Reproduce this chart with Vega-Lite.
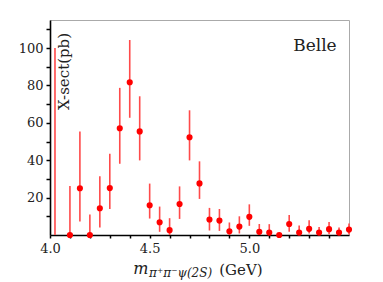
{
  "$schema": "https://vega.github.io/schema/vega-lite/v6.json",
  "width": 299,
  "height": 215,
  "autosize": {"type": "none"},
  "padding": {"left": 50, "top": 20, "right": 34, "bottom": 47},
  "background": "white",
  "config": {
    "view": {"stroke": "#aaaaaa", "strokeWidth": 1},
    "axis": {
      "domainColor": "black",
      "domainWidth": 1.6,
      "tickColor": "black",
      "tickWidth": 1.5,
      "grid": false,
      "labelOverlap": false,
      "labelFont": "DejaVu Serif",
      "labelFontSize": 13,
      "labelColor": "#222222",
      "titleFont": "DejaVu Serif",
      "titleFontWeight": "normal",
      "titleColor": "#222222"
    }
  },
  "data": {
    "values": [
      {"x": 4.025, "v": null, "lo": 0, "hi": 100},
      {"x": 4.10, "v": 0, "lo": 0, "hi": 26.2},
      {"x": 4.15, "v": 25.0, "lo": 7.2, "hi": 55.3},
      {"x": 4.20, "v": 0, "lo": 0, "hi": 10.9},
      {"x": 4.25, "v": 14.3, "lo": 4.0, "hi": 31.4},
      {"x": 4.30, "v": 25.1, "lo": 13.9, "hi": 43.5},
      {"x": 4.35, "v": 57.1, "lo": 38.1, "hi": 78.7},
      {"x": 4.40, "v": 81.7, "lo": 62.7, "hi": 104.3},
      {"x": 4.45, "v": 55.4, "lo": 39.9, "hi": 74.2},
      {"x": 4.50, "v": 15.9, "lo": 8.8, "hi": 27.5},
      {"x": 4.55, "v": 6.8, "lo": 1.7, "hi": 15.2},
      {"x": 4.60, "v": 2.6, "lo": 0, "hi": 9.0},
      {"x": 4.65, "v": 16.6, "lo": 8.6, "hi": 26.0},
      {"x": 4.70, "v": 52.3, "lo": 39.9, "hi": 66.7},
      {"x": 4.75, "v": 27.6, "lo": 19.3, "hi": 39.4},
      {"x": 4.80, "v": 8.3, "lo": 2.4, "hi": 14.5},
      {"x": 4.85, "v": 7.7, "lo": 2.2, "hi": 13.9},
      {"x": 4.90, "v": 2.0, "lo": 0, "hi": 6.7},
      {"x": 4.95, "v": 4.5, "lo": 0.8, "hi": 10.0},
      {"x": 5.00, "v": 9.7, "lo": 4.9, "hi": 16.4},
      {"x": 5.05, "v": 1.7, "lo": 0, "hi": 5.9},
      {"x": 5.10, "v": 1.3, "lo": 0, "hi": 5.8},
      {"x": 5.15, "v": 0, "lo": 0, "hi": 1.1},
      {"x": 5.20, "v": 5.9, "lo": 1.7, "hi": 10.7},
      {"x": 5.25, "v": 1.3, "lo": 0, "hi": 5.1},
      {"x": 5.30, "v": 3.3, "lo": 0.8, "hi": 7.9},
      {"x": 5.35, "v": 1.3, "lo": 0, "hi": 4.3},
      {"x": 5.40, "v": 3.1, "lo": 0.4, "hi": 7.0},
      {"x": 5.45, "v": 1.3, "lo": 0, "hi": 4.0},
      {"x": 5.50, "v": 2.9, "lo": 0.3, "hi": 6.1}
    ]
  },
  "encoding": {
    "x": {
      "field": "x",
      "type": "quantitative",
      "scale": {"domain": [4.0, 5.5], "nice": false, "zero": false},
      "axis": {
        "title": null,
        "values": [4.0, 4.1, 4.2, 4.3, 4.4, 4.5, 4.6, 4.7, 4.8, 4.9, 5.0, 5.1, 5.2, 5.3, 5.4],
        "labelExpr": "abs(datum.value*2 - round(datum.value*2)) < 1e-6 ? format(datum.value, '.1f') : ''",
        "tickSize": 3,
        "labelPadding": 4,
        "labelFlush": false
      }
    },
    "y": {
      "field": "v",
      "type": "quantitative",
      "scale": {"domain": [0, 115], "nice": false},
      "axis": {
        "title": "X-sect(pb)",
        "titleFontSize": 15,
        "titleAngle": -90,
        "titleAlign": "center",
        "titleBaseline": "alphabetic",
        "titleX": 18.5,
        "titleY": 51,
        "values": [10, 20, 30, 40, 50, 60, 70, 80, 90, 100, 110],
        "labelExpr": "abs(datum.value/20 - round(datum.value/20)) < 1e-6 ? format(datum.value, 'd') : ''",
        "tickSize": 4,
        "labelPadding": 3
      }
    }
  },
  "layer": [
    {
      "mark": {"type": "rule", "color": "#ff4a4a", "strokeWidth": 1.6},
      "encoding": {
        "y": {"field": "lo", "type": "quantitative"},
        "y2": {"field": "hi"}
      }
    },
    {
      "mark": {"type": "point", "filled": true, "color": "#ff0000", "size": 38, "opacity": 1}
    },
    {
      "transform": [{"filter": "datum.x == 5.5"}],
      "mark": {"type": "text", "font": "DejaVu Serif", "fontSize": 17, "fontWeight": "normal", "align": "right", "baseline": "alphabetic", "color": "#222222"},
      "encoding": {
        "x": {"datum": 5.438},
        "y": {"datum": 98.6},
        "text": {"value": "Belle"}
      }
    },
    {
      "transform": [{"filter": "datum.x == 5.5"}],
      "mark": {"type": "text", "font": "DejaVu Serif", "fontSize": 16, "fontWeight": "normal", "fontStyle": "italic", "align": "left", "baseline": "alphabetic", "color": "#222222"},
      "encoding": {
        "x": {"datum": 4.418},
        "y": {"datum": -21.1},
        "text": {"value": "m"}
      }
    },
    {
      "transform": [{"filter": "datum.x == 5.5"}],
      "mark": {"type": "text", "font": "DejaVu Serif", "fontSize": 12, "fontWeight": "normal", "fontStyle": "italic", "align": "left", "baseline": "alphabetic", "color": "#222222"},
      "encoding": {
        "x": {"datum": 4.497},
        "y": {"datum": -22.7},
        "text": {"value": "π⁺π⁻ψ(2S)"}
      }
    },
    {
      "transform": [{"filter": "datum.x == 5.5"}],
      "mark": {"type": "text", "font": "DejaVu Serif", "fontSize": 15, "fontWeight": "normal", "align": "left", "baseline": "alphabetic", "color": "#222222"},
      "encoding": {
        "x": {"datum": 4.849},
        "y": {"datum": -21.4},
        "text": {"value": "(GeV)"}
      }
    }
  ]
}
